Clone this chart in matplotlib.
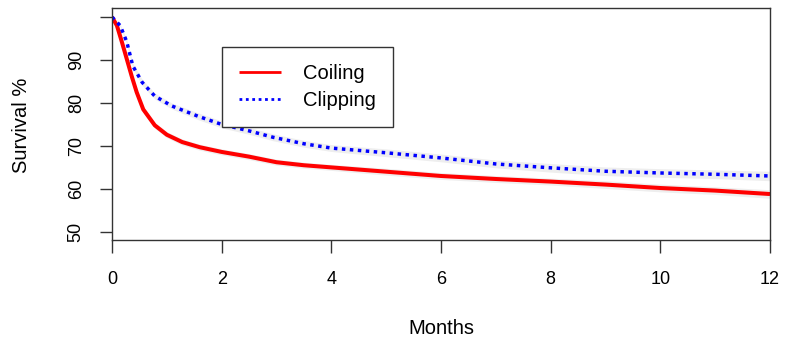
import matplotlib
matplotlib.use("Agg")
import matplotlib.pyplot as plt

plt.rcParams['font.family'] = ['Liberation Sans', 'DejaVu Sans']

# survival curves
coil_months = [0, 0.09, 0.18, 0.27, 0.36, 0.45, 0.57, 0.78, 1.0, 1.28, 1.6, 2.0,
               2.5, 3.0, 3.5, 4, 5, 6, 7, 8, 9, 10, 11, 12]
coil_surv = [100, 98, 94.2, 90.2, 86.2, 82.5, 78.5, 74.8, 72.6, 70.9, 69.7, 68.6,
             67.5, 66.2, 65.5, 65.0, 64.0, 63.0, 62.3, 61.7, 61.0, 60.2, 59.6, 58.8]
coil_ci = [0, 0.3, 0.4, 0.5, 0.6, 0.6, 0.7, 0.7, 0.7, 0.7, 0.7, 0.7,
           0.7, 0.7, 0.7, 0.7, 0.8, 0.8, 0.8, 0.8, 0.9, 0.9, 0.9, 1.0]

clip_months = [0, 0.15, 0.27, 0.38, 0.55, 0.78, 1.09, 1.57, 2.0, 2.5, 2.94, 3.5,
               4, 5, 6, 7, 8, 9, 10, 11, 12]
clip_surv = [100, 98, 94.2, 88.6, 84.8, 81.6, 79.3, 76.9, 75.0, 73.5, 72, 70.5,
             69.5, 68.4, 67.2, 65.8, 64.9, 64.1, 63.7, 63.4, 63.0]
clip_ci = [0, 0.3, 0.5, 0.6, 0.7, 0.7, 0.7, 0.8, 0.8, 0.8, 0.8, 0.8,
           0.8, 0.9, 0.9, 0.9, 1.0, 1.0, 1.0, 1.0, 1.1]

x_ticks = [0, 2, 4, 6, 8, 10, 12]
y_ticks = [50, 60, 70, 80, 90, 100]
y_labels = ['50', '60', '70', '80', '90', '']

fig = plt.figure(figsize=(7.87, 3.47), dpi=100)
ax = fig.add_axes([112 / 787, 107 / 347, 658 / 787, 232 / 347])

band = '#eeeeee'
ax.fill_between(coil_months, [v - c for v, c in zip(coil_surv, coil_ci)],
                [v + c for v, c in zip(coil_surv, coil_ci)], color=band, lw=0)
ax.fill_between(clip_months, [v - c for v, c in zip(clip_surv, clip_ci)],
                [v + c for v, c in zip(clip_surv, clip_ci)], color=band, lw=0)

ax.plot(coil_months, coil_surv, color='#ff0000', lw=2.9, label='Coiling',
        solid_capstyle='butt')
ax.plot(clip_months, clip_surv, color='#0000ff', lw=2.5, ls=(0, (1, 1.3)),
        label='Clipping')

ax.set_xlim(0, 12)
ax.set_ylim(48.1, 102.1)
ax.set_xticks(x_ticks)
ax.set_xticklabels([str(t) for t in x_ticks])
ax.set_yticks(y_ticks)
ax.set_yticklabels(y_labels, rotation=90, va='center')

for s in ax.spines.values():
    s.set_color('#333333')
    s.set_linewidth(1.0)
ax.tick_params(axis='x', length=9, width=1.0, color='#333333', pad=13, labelsize=13)
ax.tick_params(axis='y', length=8.6, width=1.0, color='#333333', pad=11, labelsize=13)

fig.text(22 / 787, 1 - 125 / 347, 'Survival %', rotation=90, ha='center', va='center',
         fontsize=14.5)
fig.text(441 / 787, 1 - 328 / 347, 'Months', ha='center', va='center', fontsize=14.5)

leg = ax.legend(loc='upper left', bbox_to_anchor=(0.167, 0.832), fancybox=False,
                edgecolor='#333333', framealpha=1, fontsize=14.5, handlelength=2.1,
                handletextpad=1.1, labelspacing=0.4, borderpad=0.85, borderaxespad=0)
leg.get_frame().set_linewidth(1.0)
for h in leg.get_lines():
    h.set_linewidth(2.0)

fig.savefig('out.png', dpi=100)
